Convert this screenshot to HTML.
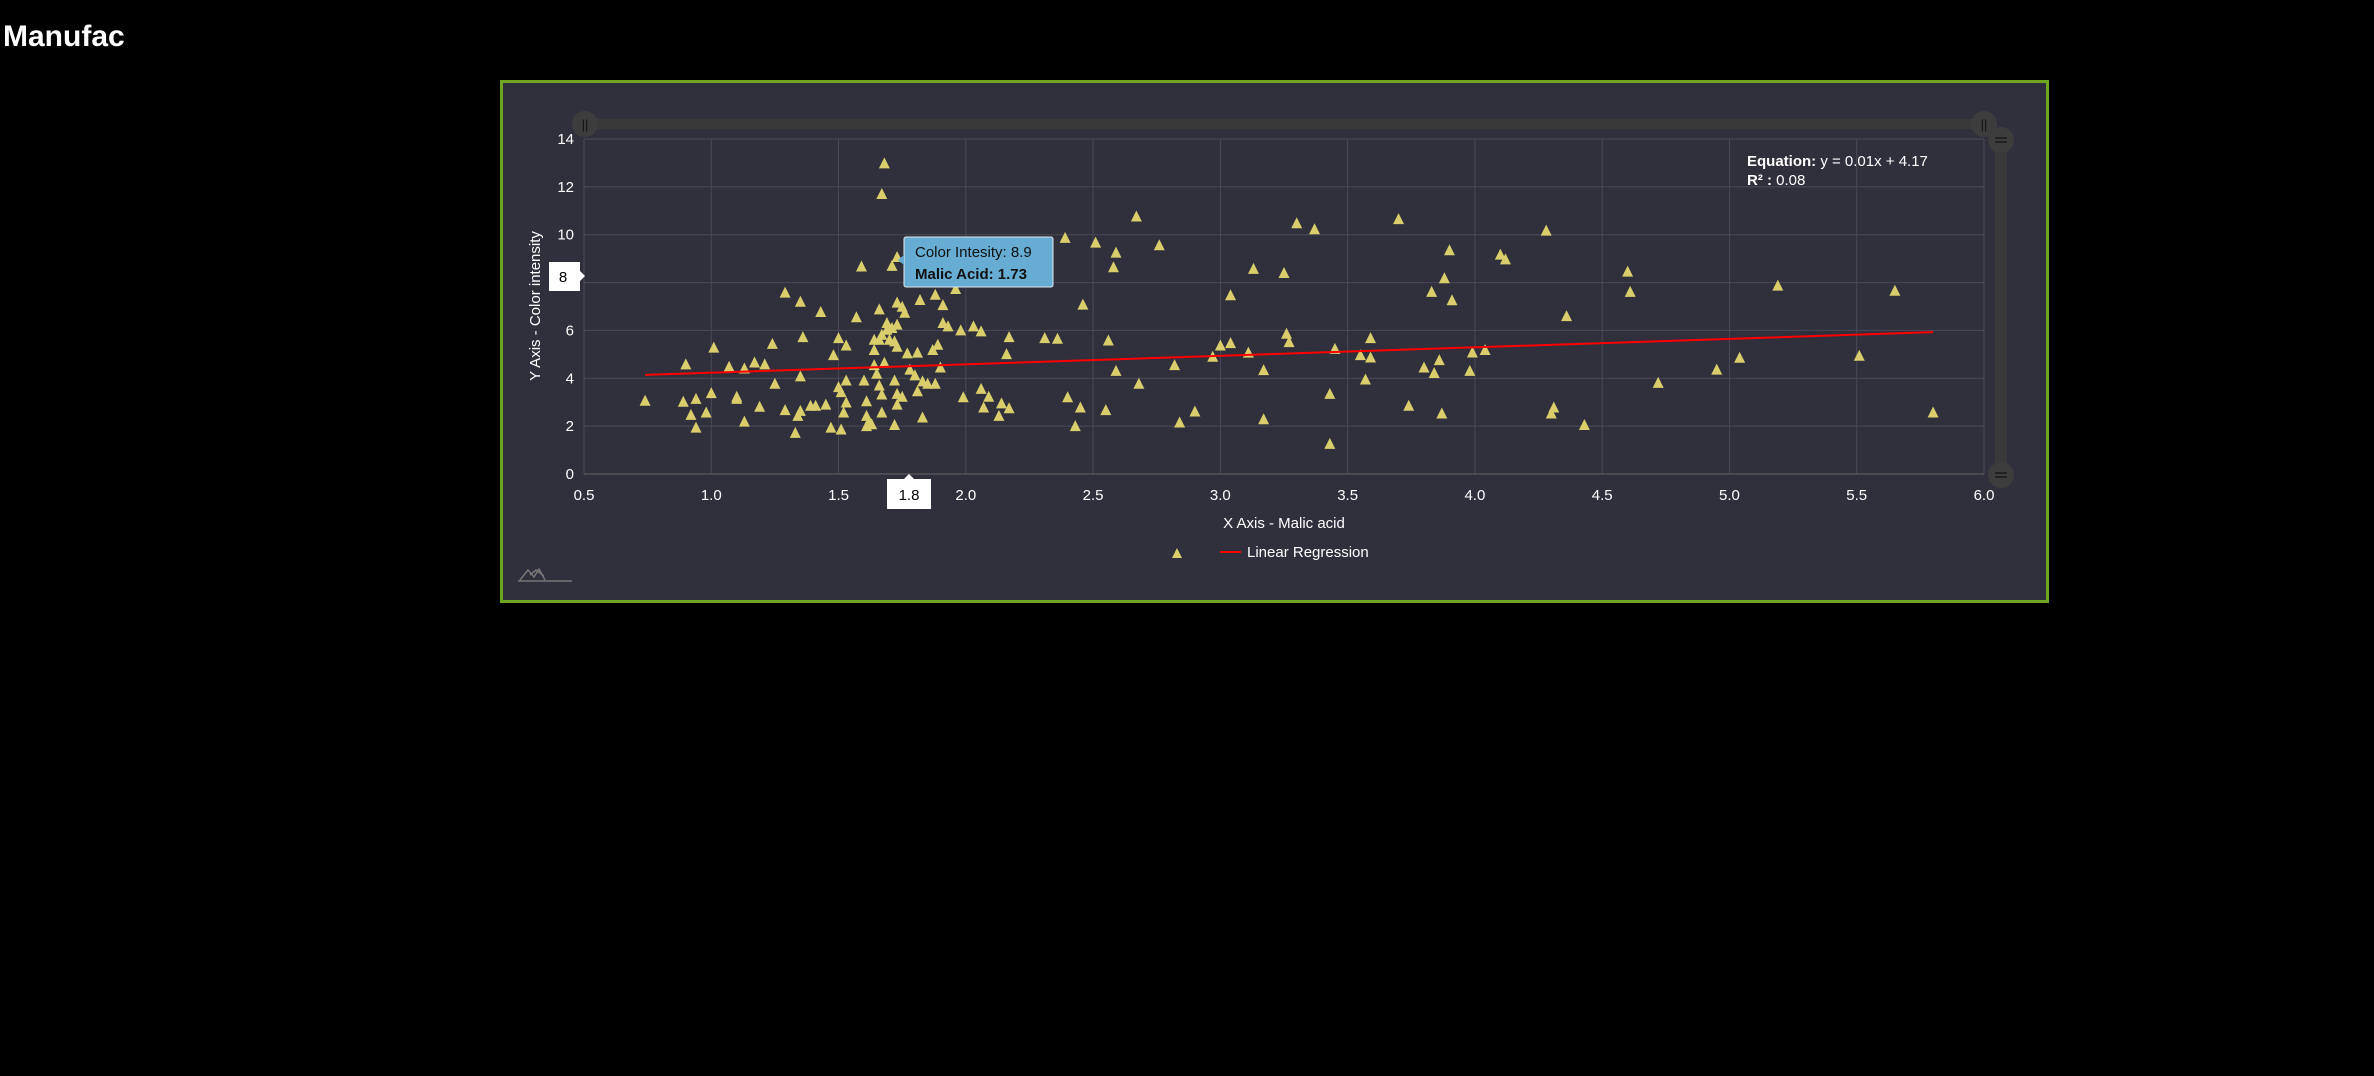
<!DOCTYPE html>
<html><head><meta charset="utf-8"><style>
body{margin:0;background:#000;width:2374px;height:1076px;overflow:hidden;font-family:"Liberation Sans",sans-serif}
#title{position:absolute;left:3px;top:20px;color:#fff;font-weight:bold;font-size:30px}
#box{position:absolute;left:500px;top:80px;width:1543px;height:517px;border:3px solid #6fa621;background:#30303c}
svg{position:absolute;left:0;top:0}
text{font-family:"Liberation Sans",sans-serif}
</style></head><body>
<div id="title">Manufac</div>
<div id="box"></div>
<svg id="chart" width="2374" height="1076">
<g id="grid"></g>
<g id="axes"></g>
<g id="marks"></g>
<line id="regline" stroke="#ff0000" stroke-width="2"/>
<rect x="584" y="119" width="1400" height="10" fill="#393939"/>
<circle cx="585" cy="124" r="13" fill="#3d3d3d"/>
<text x="585" y="129" text-anchor="middle" fill="#111" font-size="13">||</text>
<circle cx="1984" cy="124" r="13" fill="#3d3d3d"/>
<text x="1984" y="129" text-anchor="middle" fill="#111" font-size="13">||</text>
<rect x="1995" y="140" width="12" height="335" fill="#393939"/>
<circle cx="2001" cy="140" r="13" fill="#3d3d3d"/>
<path d="M1995 138h12M1995 142h12" stroke="#111" stroke-width="1.3"/>
<circle cx="2001" cy="475" r="13" fill="#3d3d3d"/>
<path d="M1995 473h12M1995 477h12" stroke="#111" stroke-width="1.3"/>
<text x="1747" y="166" fill="#fff" font-size="15"><tspan font-weight="bold">Equation:</tspan> y = 0.01x + 4.17</text>
<text x="1747" y="185" fill="#fff" font-size="15"><tspan font-weight="bold">R² :</tspan> 0.08</text>
<text x="1284" y="528" text-anchor="middle" fill="#fff" font-size="15">X Axis - Malic acid</text>
<text transform="translate(540,306) rotate(-90)" text-anchor="middle" fill="#fff" font-size="15">Y Axis - Color intensity</text>
<path d="M1172 558l5-10 5 10z" fill="#d9ce6b"/>
<line x1="1220" y1="552" x2="1241" y2="552" stroke="#ff0000" stroke-width="2"/>
<text x="1247" y="557" fill="#fff" font-size="15">Linear Regression</text>
<path d="M518 581h54M520 580l8-10 6 7 5-8 6 11M530 575l6-5 8 6" stroke="#777" stroke-width="1.5" fill="none"/>
<g>
<rect x="904" y="237" width="149" height="50" rx="2" fill="#66acd3" stroke="#dfe9ef" stroke-width="1"/>
<path d="M904 255l-6 5 6 5z" fill="#66acd3"/>
<text x="915" y="257" font-size="15" fill="#111">Color Intesity: 8.9</text>
<text x="915" y="279" font-size="15" font-weight="bold" fill="#111">Malic Acid: 1.73</text>
</g>
<g>
<rect x="549" y="262" width="31" height="29" fill="#fff"/><path d="M580 271l5 5-5 5z" fill="#fff"/>
<text x="563" y="282" text-anchor="middle" font-size="15" fill="#000">8</text></g>
<g>
<rect x="887" y="479" width="44" height="30" fill="#fff"/><path d="M904 479l5-5 5 5z" fill="#fff"/>
<text x="909" y="500" text-anchor="middle" font-size="15" fill="#000">1.8</text></g>
</svg>
<script>
const xTicks=[0.5,1.0,1.5,2.0,2.5,3.0,3.5,4.0,4.5,5.0,5.5,6.0];
const yTicks=[0,2,4,6,8,10,12,14];
const malicAcid=[0.74,1.68,1.67,2.67,2.39,2.51,2.59,2.76,1.73,1.71,1.59,2.58,3.13,3.25,3.30,1.29,1.35,1.43,1.57,1.66,1.73,1.75,1.76,1.82,1.88,1.91,1.96,2.46,3.04,1.69,1.71,1.73,1.69,1.67,1.64,1.66,1.64,1.70,1.72,1.73,1.77,1.81,1.87,1.89,1.91,1.93,1.98,2.03,2.06,2.17,2.16,2.31,2.36,2.56,1.50,1.53,1.48,1.36,1.24,1.01,0.90,1.07,1.13,1.17,1.21,1.35,1.25,1.00,0.89,0.94,1.10,1.10,0.98,0.92,0.94,1.13,1.19,1.29,1.34,1.35,1.39,1.41,1.45,1.33,1.47,1.51,1.50,1.51,1.53,1.53,1.52,1.60,1.61,1.61,1.62,1.61,1.63,1.67,1.66,1.67,1.65,1.64,1.68,1.72,1.73,1.75,1.73,1.72,1.78,1.80,1.83,1.81,1.85,1.88,1.90,1.83,1.99,2.06,2.09,2.07,2.13,2.14,2.17,2.40,2.45,2.43,2.55,2.59,2.68,2.82,2.84,2.90,2.97,3.00,3.04,3.11,3.17,3.17,3.26,3.27,3.37,3.70,4.28,3.90,4.10,4.12,3.88,3.83,3.91,4.60,4.61,5.19,5.65,4.36,3.59,3.45,3.55,3.59,3.99,4.04,3.86,3.80,3.84,3.98,3.57,3.43,3.74,3.87,4.31,4.30,4.43,3.43,4.72,4.95,5.04,5.51,5.80];
const colorIntensity=[3.06,12.98,11.7,10.76,9.87,9.67,9.25,9.56,9.07,8.7,8.67,8.64,8.57,8.4,10.48,7.58,7.2,6.77,6.55,6.88,7.16,6.99,6.74,7.27,7.49,7.06,7.73,7.08,7.47,6.31,6.1,6.24,6.03,5.82,5.61,5.61,5.18,5.61,5.54,5.32,5.04,5.07,5.18,5.4,6.31,6.17,6.0,6.17,5.96,5.72,5.01,5.68,5.65,5.58,5.68,5.37,4.97,5.72,5.44,5.28,4.58,4.48,4.41,4.66,4.58,4.08,3.77,3.38,3.02,3.14,3.23,3.14,2.57,2.47,1.94,2.19,2.81,2.67,2.43,2.64,2.85,2.85,2.9,1.72,1.94,1.86,3.63,3.42,3.91,2.99,2.57,3.91,3.04,2.43,2.15,2.0,2.08,2.57,3.7,3.32,4.19,4.55,4.65,3.91,3.35,3.23,2.9,2.05,4.36,4.12,3.87,3.46,3.77,3.77,4.45,2.36,3.21,3.56,3.23,2.78,2.43,2.95,2.75,3.21,2.78,2.0,2.67,4.31,3.77,4.55,2.15,2.61,4.9,5.37,5.47,5.07,4.34,2.29,5.86,5.51,10.23,10.65,10.17,9.35,9.17,8.97,8.18,7.61,7.26,8.46,7.61,7.87,7.66,6.6,5.68,5.23,4.97,4.87,5.08,5.18,4.76,4.45,4.22,4.31,3.95,3.35,2.85,2.53,2.78,2.53,2.05,1.26,3.81,4.36,4.86,4.94,2.57];
const regX=[0.74,5.80];
const regY=[4.14,5.93];
const NS='http://www.w3.org/2000/svg';
const X0=584,X1=1984,Y0=474,Y1=139;
function sx(v){return X0+(v-0.5)/5.5*(X1-X0);}
function sy(v){return Y0-v/14*(Y0-Y1);}
const grid=document.getElementById('grid'),axes=document.getElementById('axes'),marks=document.getElementById('marks');
function mk(tag,attrs,parent){const e=document.createElementNS(NS,tag);for(const k in attrs)e.setAttribute(k,attrs[k]);parent.appendChild(e);return e;}
xTicks.forEach(t=>{
 const l=mk('line',{x1:sx(t),x2:sx(t),y1:Y1,y2:Y0,stroke:'#4a4a58','stroke-width':1},grid);
 
 
 const tx=mk('text',{x:sx(t),y:500,'text-anchor':'middle',fill:'#fff','font-size':15},axes);
 tx.textContent=t.toFixed(1);
 
 
});
yTicks.forEach(t=>{
 const l=mk('line',{x1:X0,x2:X1,y1:sy(t),y2:sy(t),stroke:t===0?'#666':'#4a4a58','stroke-width':1},grid);
 
 
 const tx=mk('text',{x:574,y:sy(t)+5,'text-anchor':'end',fill:'#fff','font-size':15},axes);
 tx.textContent=t;
 
 
});
malicAcid.forEach((v,i)=>{
 const cx=sx(v),cy=sy(colorIntensity[i]);
 const p=mk('path',{d:`M${cx-5.5} ${cy+5}L${cx} ${cy-6}L${cx+5.5} ${cy+5}Z`,fill:'#d9ce6b'},marks);
 
 
});
const rl=document.getElementById('regline');
rl.setAttribute('x1',sx(regX[0]));rl.setAttribute('y1',sy(regY[0]));
rl.setAttribute('x2',sx(regX[1]));rl.setAttribute('y2',sy(regY[1]));
</script>
</body></html>
